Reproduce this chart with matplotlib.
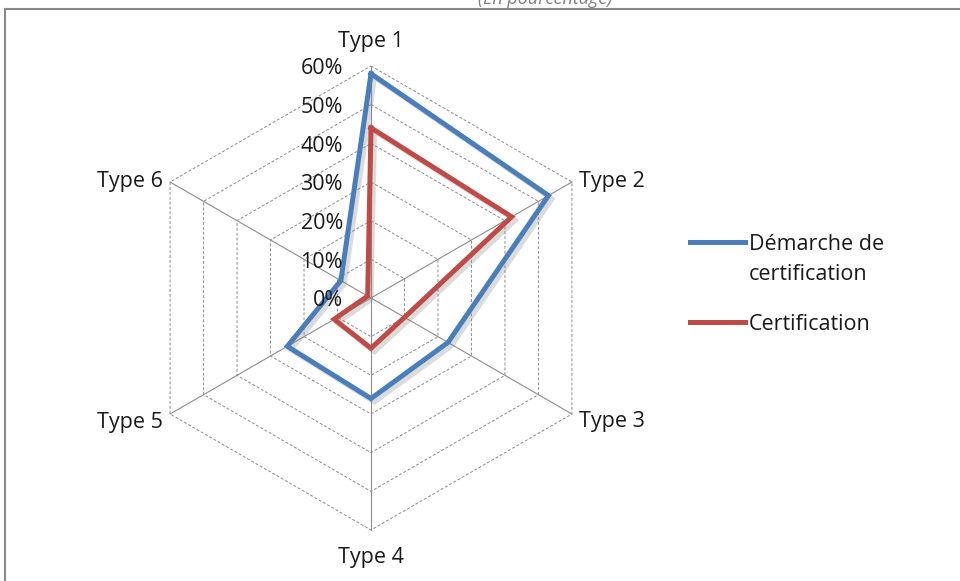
import numpy as np
import matplotlib
matplotlib.use("Agg")
import matplotlib.pyplot as plt
import matplotlib.patheffects as pe
from matplotlib.lines import Line2D
from matplotlib.patches import Rectangle

plt.rcParams['font.family'] = ['Open Sans', 'DejaVu Sans']

# data
categories = ['Type 1', 'Type 2', 'Type 3', 'Type 4', 'Type 5', 'Type 6']
demarche = [0.58, 0.53, 0.23, 0.26, 0.25, 0.09]
certification = [0.44, 0.42, 0.10, 0.13, 0.11, 0.01]
levels = [0.0, 0.1, 0.2, 0.3, 0.4, 0.5, 0.6]
level_labels = ['0%', '10%', '20%', '30%', '40%', '50%', '60%']
series_names = [['Démarche de', 'certification'], ['Certification']]
colors = ['#4A7EBB', '#BE4B48']

W, H = 960, 581
FS = 15.5
TXT = '#1a1a1a'
fig = plt.figure(figsize=(W / 100, H / 100), dpi=100)

# center (371, 298) px, radius 232 px
cx, cy, rad = 371, 298, 232
ax = fig.add_axes([(cx - rad) / W, (H - cy - rad) / H, 2 * rad / W, 2 * rad / H],
                  projection='polar')
ax.set_theta_offset(np.pi / 2)
ax.set_theta_direction(-1)
ax.set_ylim(0, 0.6)
ax.grid(False)
ax.set_xticks([])
ax.set_yticks([])
ax.spines['polar'].set_visible(False)
ax.patch.set_alpha(0)

n = len(categories)
theta = np.arange(n) * 2 * np.pi / n
theta_c = np.append(theta, theta[0])

# hexagon grid
for lv in levels[1:]:
    ax.plot(theta_c, [lv] * (n + 1), color='#8c8c8c', lw=0.7,
            linestyle=(0, (3, 2)), clip_on=False, zorder=1)
for t in theta:
    ax.plot([t, t], [0, 0.6], color='#8c8c8c', lw=0.8, clip_on=False, zorder=1)

shadow = [pe.SimpleLineShadow(offset=(2.5, -2.5), shadow_color='#888888', alpha=0.3),
          pe.Normal()]
for vals, col in zip([demarche, certification], colors):
    v = np.append(vals, vals[0])
    ax.plot(theta_c, v, color=col, lw=3.6, solid_joinstyle='miter',
            path_effects=shadow, clip_on=False, zorder=3)

# level labels
for lv, lab in zip(levels, level_labels):
    ax.annotate(lab, xy=(0, lv), xytext=(-28, -3), textcoords='offset pixels',
                ha='right', va='center', fontsize=FS, color=TXT)

# category labels
offsets = [(0, 14, 'center', 'bottom'), (7, 1, 'left', 'center'),
           (7, -8, 'left', 'center'), (0, -17, 'center', 'top'),
           (-7, -8, 'right', 'center'), (-7, 1, 'right', 'center')]
for t, lab, (dx, dy, ha, va) in zip(theta, categories, offsets):
    ax.annotate(lab, xy=(t, 0.6), xytext=(dx, dy), textcoords='offset pixels',
                ha=ha, va=va, fontsize=FS, color=TXT)

# legend
leg_y = [242, 322]
for name, col, y in zip(series_names, colors, leg_y):
    fig.add_artist(Line2D([690 / W, 745 / W], [(H - y) / H] * 2, color=col, lw=3.6,
                          transform=fig.transFigure))
    for i, line in enumerate(name):
        fig.text(749 / W, (H - y - 31 * i - 2) / H, line, ha='left', va='center',
                 fontsize=FS, color=TXT)

# chart border and cut-off title
fig.add_artist(Rectangle((5 / W, -0.1), 1.2, (H - 9) / H + 0.1, fill=False,
                         edgecolor='#8a8a8a', lw=1.5, transform=fig.transFigure))
fig.text(545 / W, (H - 4) / H, '(En pourcentage)', ha='center', va='baseline',
         fontsize=13, style='italic', color='#7f7f7f')

fig.savefig('out.png', dpi=100)
